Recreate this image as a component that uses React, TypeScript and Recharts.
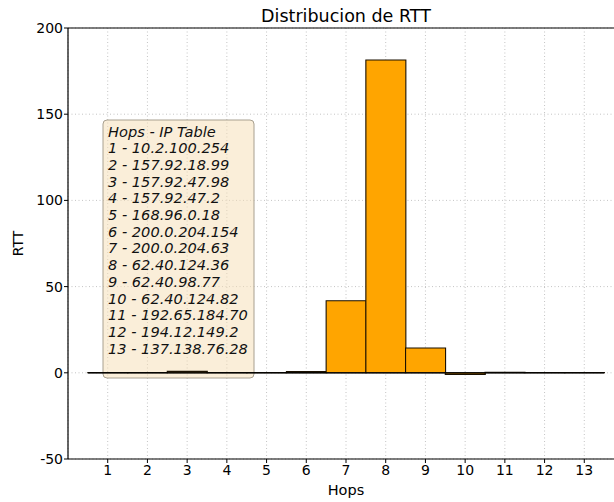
import React from 'react';
import {
  BarChart,
  Bar,
  XAxis,
  YAxis,
  CartesianGrid,
  ReferenceLine,
  Customized,
} from 'recharts';

const hops = [1, 2, 3, 4, 5, 6, 7, 8, 9, 10, 11, 12, 13];
const rtt = [0.1, 0.1, 0.8, 0.1, 0.2, 0.7, 41.8, 181.4, 14.4, -0.9, 0.3, 0.1, 0.1];
const ips = [
  '10.2.100.254',
  '157.92.18.99',
  '157.92.47.98',
  '157.92.47.2',
  '168.96.0.18',
  '200.0.204.154',
  '200.0.204.63',
  '62.40.124.36',
  '62.40.98.77',
  '62.40.124.82',
  '192.65.184.70',
  '194.12.149.2',
  '137.138.76.28',
];
const yTicks = [-50, 0, 50, 100, 150, 200];
const tableTitle = 'Hops - IP Table';
const chartTitle = 'Distribucion de RTT';

const data = hops.map((h, i) => ({ hop: h, rtt: rtt[i] }));

const FONT = '"DejaVu Sans", sans-serif';

const Overlay = () => (
  <g>
    <text
      x={346}
      y={22}
      textAnchor="middle"
      fontFamily={FONT}
      fontSize={17.5}
      fill="#000"
    >
      {chartTitle}
    </text>
    <rect
      x={103}
      y={120}
      width={151}
      height={258}
      rx={4}
      ry={4}
      fill="#f5deb3"
      fillOpacity={0.5}
      stroke="#a8a090"
      strokeWidth={1}
    />
    <text fontFamily={FONT} fontStyle="italic" fontSize={14.6} fill="#111">
      <tspan x={108} y={136.5}>{tableTitle}</tspan>
      {hops.map((h, i) => (
        <tspan key={h} x={108} y={136.5 + (i + 1) * 16.7}>
          {`${h} - ${ips[i]}`}
        </tspan>
      ))}
    </text>
  </g>
);

const YLabel = (props: any) => {
  const vb = props.viewBox || { x: 0, y: 28, width: 68, height: 431 };
  const cy = vb.y + vb.height / 2;
  return (
    <text
      x={23}
      y={cy}
      transform={`rotate(-90, 23, ${cy})`}
      textAnchor="middle"
      fontFamily={FONT}
      fontSize={14}
      fill="#000"
    >
      RTT
    </text>
  );
};

const XLabel = (props: any) => {
  const vb = props.viewBox || { x: 68, y: 459, width: 556, height: 43 };
  return (
    <text
      x={vb.x + vb.width / 2}
      y={vb.y + 36}
      textAnchor="middle"
      fontFamily={FONT}
      fontSize={14.5}
      fill="#000"
    >
      Hops
    </text>
  );
};

export default function App() {
  return (
    <div
      style={{
        position: 'fixed',
        left: 0,
        top: 0,
        width: 614,
        height: 502,
        overflow: 'hidden',
        background: '#fff',
      }}
    >
      <BarChart
        width={640}
        height={502}
        data={data}
        margin={{ top: 28, right: 16, bottom: 0, left: 0 }}
        barCategoryGap={0}
        barGap={0}
        style={{ overflow: 'visible' }}
      >
        <CartesianGrid stroke="#c4c4c4" strokeDasharray="1 2.5" strokeWidth={1} />
        <XAxis
          dataKey="hop"
          type="number"
          domain={[0, 14]}
          ticks={hops}
          interval={0}
          allowDecimals={false}
          height={43}
          tickSize={4}
          tickMargin={2}
          axisLine={{ stroke: '#000', strokeWidth: 1.2 }}
          tickLine={{ stroke: '#000' }}
          tick={{ fill: '#000', fontSize: 14, fontFamily: FONT }}
          label={{ content: (p: any) => <XLabel {...p} /> }}
        />
        <YAxis
          type="number"
          domain={[-50, 200]}
          ticks={yTicks}
          interval={0}
          width={68}
          tickSize={4}
          tickMargin={1}
          axisLine={{ stroke: '#000', strokeWidth: 1.2 }}
          tickLine={{ stroke: '#000' }}
          tick={{ fill: '#000', fontSize: 14, fontFamily: FONT }}
          label={{ content: (p: any) => <YLabel {...p} /> }}
        />
        <ReferenceLine y={200} stroke="#000" strokeWidth={1.2} />
        <ReferenceLine
          segment={[
            { x: 0.5, y: 0 },
            { x: 13.5, y: 0 },
          ]}
          stroke="#000"
          strokeWidth={1.2}
        />
        <Bar
          dataKey="rtt"
          fill="#ffa500"
          stroke="#1a1000"
          strokeWidth={1.1}
          isAnimationActive={false}
        />
        <Customized component={<Overlay />} />
      </BarChart>
    </div>
  );
}
